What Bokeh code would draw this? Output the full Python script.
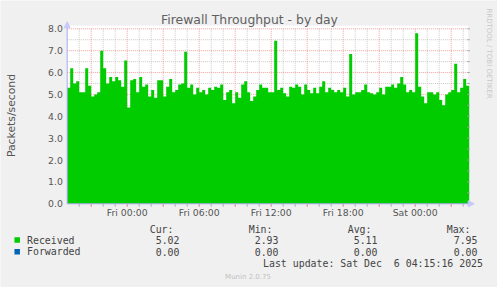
import math
from bokeh.plotting import figure
from bokeh.models import Range1d, Arrow, NormalHead
from bokeh.core.properties import value
from bokeh.embed import file_html
from bokeh.resources import INLINE

# ---------------- data ----------------
title = "Firewall Throughput - by day"
y_label = "Packets/second"
start_hour = -5.0          # hours relative to Fri 00:00
step_hours = 0.25          # one value per 15 minutes
received = [
    5.3, 6.2, 5.5, 5.6, 5.1, 5.1, 6.2, 5.4, 4.9, 5.0,
    5.1, 7.0, 6.2, 5.5, 5.8, 5.6, 5.8, 5.65, 5.35, 6.55,
    4.4, 5.65, 5.7, 5.1, 5.8, 5.35, 5.45, 4.9, 5.2, 4.85,
    5.65, 5.65, 4.9, 5.35, 5.7, 5.1, 5.2, 5.45, 5.5, 6.95,
    5.3, 5.45, 5.0, 5.3, 5.1, 5.2, 5.0, 5.3, 5.2, 5.35,
    5.3, 5.45, 4.75, 5.1, 5.2, 4.6, 5.1, 4.85, 5.45, 5.6,
    5.1, 4.7, 4.9, 5.2, 5.45, 5.3, 5.3, 5.1, 5.1, 7.45,
    5.2, 5.3, 5.05, 4.9, 5.35, 5.3, 5.45, 5.35, 5.0, 5.45,
    5.2, 5.05, 5.3, 5.05, 5.35, 5.6, 5.1, 5.3, 5.2, 5.1,
    5.2, 5.1, 5.3, 4.9, 6.85, 5.0, 5.1, 5.1, 5.2, 5.45,
    5.1, 5.05, 5.0, 5.1, 5.3, 5.0, 5.35, 5.35, 5.45, 5.3,
    5.5, 5.8, 5.45, 5.1, 5.2, 5.1, 7.8, 5.35, 4.9, 4.6,
    5.1, 5.1, 5.0, 5.1, 4.75, 4.5, 5.0, 5.1, 5.2, 6.4,
    5.1, 5.3, 5.7, 5.4,
]
x_major = [-3, 0, 3, 6, 9, 12, 15, 18, 21, 24, 27]
x_label_values = [0, 6, 12, 18, 24]
x_label_texts = ["Fri 00:00", "Fri 06:00", "Fri 12:00", "Fri 18:00", "Sat 00:00"]
x_minor = [-4, -2, -1, 1, 2, 4, 5, 7, 8, 10, 11, 13, 14, 16, 17, 19, 20, 22, 23, 25, 26, 28]
y_major = [1, 2, 3, 4, 5, 6, 7, 8]
y_label_values = [0, 1, 2, 3, 4, 5, 6, 7, 8]
y_label_texts = ["0.0", "1.0", "2.0", "3.0", "4.0", "5.0", "6.0", "7.0", "8.0"]
y_minor = [0.5, 1.5, 2.5, 3.5, 4.5, 5.5, 6.5, 7.5]

series_names = ["Received", "Forwarded"]
series_colors = ["#00CC00", "#0066B3"]
stat_headers = ["Cur:", "Min:", "Avg:", "Max:"]
stat_values = [["5.02", "2.93", "5.11", "7.95"],
               ["0.00", "0.00", "0.00", "0.00"]]
last_update = "Last update: Sat Dec  6 04:15:16 2025"
munin_version = "Munin 2.0.75"
rrd_credit = "RRDTOOL / TOBI OETIKER"

# ---------------- layout (graph box 400x175 px at left=66.7, top=28.3) ----------------
W, H = 497, 287
GL, GT, GW, GH = 66.7, 28.3, 400.0, 175.0
x0, x1 = -5.0, -5.0 + GW / 12.0
y0, y1 = 0.0, 8.0

def hx(px):
    return x0 + (px - GL) * (x1 - x0) / GW

def vy(py):
    return y1 - (py - GT) * (y1 - y0) / GH

p = figure(width=W, height=H, output_backend="svg", toolbar_location=None,
           x_range=Range1d(hx(0), hx(W)), y_range=Range1d(vy(H), vy(0)),
           min_border=0, x_axis_location=None, y_axis_location=None)
p.background_fill_color = "#F0F0F0"
p.border_fill_color = "#F0F0F0"
p.outline_line_color = None
p.grid.visible = False

# white canvas of the graph
p.quad(left=[x0], right=[hx(GL + GW + 1)], bottom=[y0], top=[vy(GT - 3)],
       fill_color="white", line_color=None)

# grid (under the data)
grid_dash = "1 1"
p.segment(x0=x_minor, y0=[y0] * len(x_minor), x1=x_minor, y1=[y1] * len(x_minor),
          line_color="#C8C8C8", line_width=1, line_dash=grid_dash)
p.segment(x0=[x0] * len(y_minor), y0=y_minor, x1=[x1] * len(y_minor), y1=y_minor,
          line_color="#C8C8C8", line_width=1, line_dash=grid_dash)
p.segment(x0=x_major, y0=[y0] * len(x_major), x1=x_major, y1=[y1] * len(x_major),
          line_color="#F0A0A0", line_width=1, line_dash=grid_dash)
p.segment(x0=[x0] * len(y_major), y0=y_major, x1=[x1] * len(y_major), y1=y_major,
          line_color="#F0A0A0", line_width=1, line_dash=grid_dash)

# step area of received packets
xs, ys = [], []
for i, v in enumerate(received):
    a = start_hour + i * step_hours
    xs += [a, a + step_hours]
    ys += [v, v]
p.varea(x=xs, y1=[0] * len(xs), y2=ys, fill_color=series_colors[0])

# tick marks
tick = vy(GT + GH + 3) - y0
p.segment(x0=x_minor, y0=[y0] * len(x_minor), x1=x_minor, y1=[y0 + tick] * len(x_minor),
          line_color="#B0B0B0", line_width=1)
p.segment(x0=x_major, y0=[y0] * len(x_major), x1=x_major, y1=[y0 + tick] * len(x_major),
          line_color="#F08080", line_width=1)
rt = hx(GL + GW + 2.5)
right_ticks = y_minor + y_major
p.segment(x0=[x1] * len(right_ticks), y0=right_ticks, x1=[rt] * len(right_ticks), y1=right_ticks,
          line_color="#A0A0A0", line_width=1)

# axes with arrows
axis_col = "#A8A8F0"
head_col = "#C8C8FA"
p.add_layout(Arrow(x_start=x0, y_start=y0, x_end=x0, y_end=vy(GT - 7),
                   line_color=axis_col, line_width=1,
                   end=NormalHead(size=6, fill_color=head_col, line_color=head_col)))
p.add_layout(Arrow(x_start=x0, y_start=y0, x_end=hx(GL + GW + 7), y_end=y0,
                   line_color=axis_col, line_width=1,
                   end=NormalHead(size=6, fill_color=head_col, line_color=head_col)))

# tick labels
sans = value("DejaVu Sans")
mono = value("DejaVu Sans Mono")
p.text(x=x_label_values, y=[vy(212.3)] * len(x_label_values), text=x_label_texts,
       text_font=sans, text_font_size="9.3px", text_color="#555555",
       text_align="center", text_baseline="middle")
p.text(x=[hx(62.3)] * len(y_label_values), y=y_label_values, text=y_label_texts,
       text_font=sans, text_font_size="9.3px", text_color="#555555",
       text_align="right", text_baseline="middle")

# titles
p.text(x=[hx(249)], y=[vy(19)], text=[title], text_font=sans, text_font_size="12.4px",
       text_color="#606060", text_align="center", text_baseline="middle")
p.text(x=[hx(11)], y=[vy(115)], text=[y_label], text_font=sans, text_font_size="10.8px",
       text_color="#555555", text_align="center", text_baseline="middle", angle=math.pi / 2)
p.text(x=[hx(488)], y=[vy(53)], text=[rrd_credit], text_font=sans, text_font_size="7px",
       text_color="#C8C8C8", text_align="center", text_baseline="middle", angle=-math.pi / 2)

# legend
ms = "9.9px"
hdr_right = [173, 272, 371, 470]
val_right = [179, 278, 377, 477]
p.text(x=[hx(r) for r in hdr_right], y=[vy(228.5)] * 4, text=stat_headers,
       text_font=mono, text_font_size=ms, text_color="#444444",
       text_align="right", text_baseline="middle")
rows_y = [239.5, 251.3]
p.scatter(x=[hx(16.7)] * 2, y=[vy(r) for r in rows_y], marker="square", size=5.5,
          fill_color=series_colors, line_color=None)
p.text(x=[hx(26.5)] * 2, y=[vy(r) for r in rows_y], text=series_names,
       text_font=mono, text_font_size=ms, text_color="#444444",
       text_align="left", text_baseline="middle")
for vals, ry in zip(stat_values, rows_y):
    p.text(x=[hx(r) for r in val_right], y=[vy(ry)] * 4, text=vals,
           text_font=mono, text_font_size=ms, text_color="#444444",
           text_align="right", text_baseline="middle")
# keep the double space visible in SVG (whitespace would otherwise collapse)
p.text(x=[hx(482.5)], y=[vy(263.3)], text=[last_update.replace("  ", " \u00a0")],
       text_font=mono, text_font_size=ms,
       text_color="#444444", text_align="right", text_baseline="middle")
p.text(x=[hx(247.5)], y=[vy(276)], text=[munin_version], text_font=sans, text_font_size="7px",
       text_color="#C0C0C0", text_align="center", text_baseline="middle")

open("out.html", "w").write(file_html(p, INLINE))
